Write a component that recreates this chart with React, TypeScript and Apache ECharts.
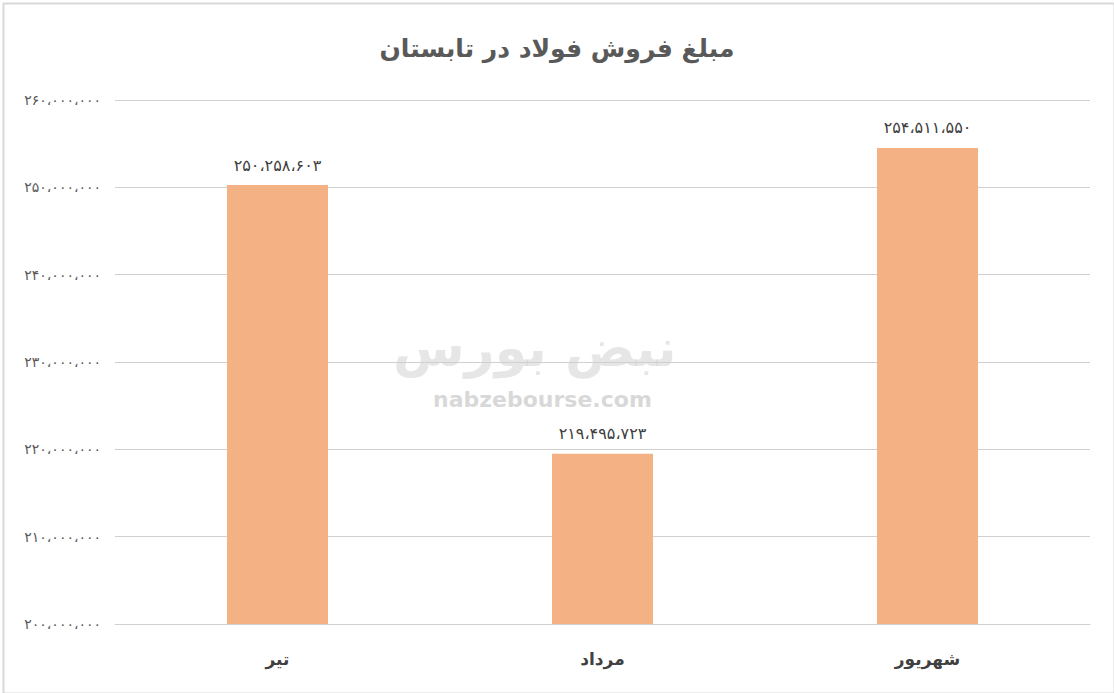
import React, { useEffect, useRef } from "react";
import * as echarts from "echarts";

const title = "مبلغ فروش فولاد در تابستان";
const categories = ["تیر", "مرداد", "شهریور"];
const values = [250258603, 219495723, 254511550];
const yMin = 200000000;
const yMax = 260000000;
const yInterval = 10000000;

const faDigits = "۰۱۲۳۴۵۶۷۸۹";
function toFa(n: number): string {
  const s = Math.round(n).toString().replace(/\B(?=(\d{3})+(?!\d))/g, "،");
  return s.replace(/\d/g, (d) => faDigits[+d]);
}

export default function App() {
  const ref = useRef<HTMLDivElement>(null);
  useEffect(() => {
    if (!ref.current) return;
    const chart = echarts.init(ref.current, null, { renderer: "svg" });
    const font = "'DejaVu Sans', 'Noto Sans', sans-serif";
    chart.setOption({
      animation: false,
      backgroundColor: "#ffffff",
      title: {
        text: title,
        left: "center",
        top: 31,
        textStyle: { fontFamily: font, fontSize: 25, fontWeight: "bold", color: "#595959" },
      },
      grid: { left: 115, right: 24, top: 100, bottom: 69, containLabel: false },
      xAxis: {
        type: "category",
        data: categories,
        axisLine: { show: true, lineStyle: { color: "#d0d0d0" } },
        axisTick: { show: false },
        axisLabel: { margin: 26, fontFamily: font, fontSize: 17, fontWeight: "bold", color: "#404040" },
      },
      yAxis: {
        type: "value",
        min: yMin,
        max: yMax,
        interval: yInterval,
        axisLine: { show: false },
        axisTick: { show: false },
        splitLine: { lineStyle: { color: "#d0d0d0", width: 1 } },
        axisLabel: {
          formatter: (v: number) => toFa(v),
          fontFamily: font,
          fontSize: 14,
          color: "#595959",
          margin: 14,
        },
      },
      graphic: [
        {
          type: "rect",
          left: 1,
          top: 1,
          shape: { width: 1111, height: 690 },
          style: { fill: "none", stroke: "#d9d9d9", lineWidth: 2 },
          silent: true,
        },
        {
          type: "text",
          left: 393,
          top: 322,
          z: 0,
          style: { text: "نبض بورس", fontFamily: font, fontSize: 52, fontWeight: "bold", fill: "rgba(200,200,200,0.45)" },
          silent: true,
        },
        {
          type: "text",
          left: 433,
          top: 388,
          z: 0,
          style: { text: "nabzebourse.com", fontFamily: font, fontSize: 22, fontWeight: "bold", fill: "rgba(190,190,190,0.6)" },
          silent: true,
        },
      ],
      series: [
        {
          type: "bar",
          data: values,
          barWidth: 101,
          itemStyle: { color: "#f4b183" },
          label: {
            show: true,
            position: "top",
            distance: 12,
            formatter: (p: any) => toFa(p.value),
            fontFamily: font,
            fontSize: 16,
            color: "#404040",
          },
          z: 2,
        },
      ],
    });
    return () => chart.dispose();
  }, []);
  return <div ref={ref} style={{ position: "absolute", left: 0, top: 0, width: 1114, height: 693 }} />;
}
